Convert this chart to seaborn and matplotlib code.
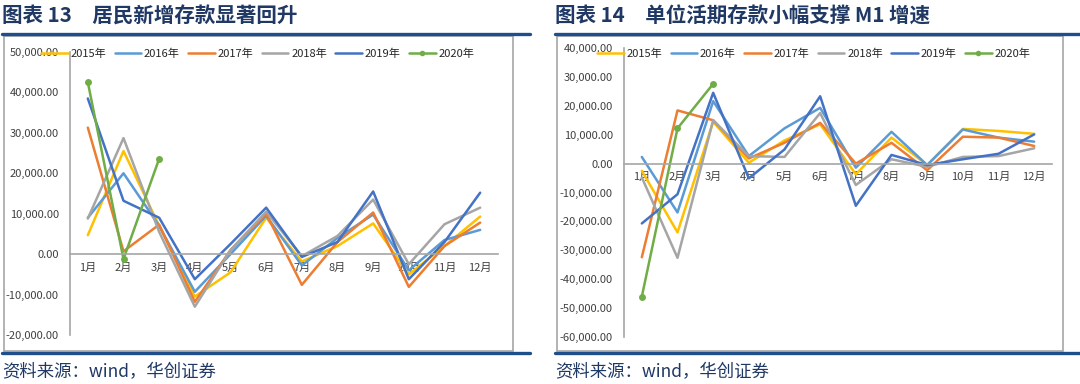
import numpy as np
import pandas as pd
import matplotlib
matplotlib.use("Agg")
import matplotlib.pyplot as plt
import seaborn as sns
from matplotlib.lines import Line2D
from matplotlib.patches import Rectangle
from matplotlib.ticker import FuncFormatter, FixedLocator

# 月份与年份
months = ["1月", "2月", "3月", "4月", "5月", "6月", "7月", "8月", "9月", "10月", "11月", "12月"]
years = ["2015年", "2016年", "2017年", "2018年", "2019年", "2020年"]
colors = ["#FFC000", "#5B9BD5", "#ED7D31", "#A5A5A5", "#4472C4", "#70AD47"]

# 图表13：居民新增存款（亿元）
hh_2015 = [4700, 25500, 7000, -10500, -4500, 9000, -1800, 2000, 7600, -5000, 2000, 9300]
hh_2016 = [9000, 20000, 7000, -9300, 0, 9500, -2800, 4000, 9800, -4000, 3500, 6000]
hh_2017 = [31300, 700, 7300, -11800, 1000, 10000, -7600, 3000, 10300, -8100, 2000, 7800]
hh_2018 = [8800, 28700, 5500, -13000, 1000, 10500, -500, 4500, 13500, -2500, 7400, 11500]
hh_2019 = [38500, 13200, 9000, -6200, 2500, 11500, -700, 3000, 15500, -6200, 3000, 15200]
hh_2020 = [42500, -1200, 23600]

# 图表14：单位活期存款（亿元）
co_2015 = [-2500, -23800, 14500, 300, 8000, 13600, -3700, 9000, -500, 12000, 11300, 10300]
co_2016 = [2300, -16900, 21600, 2600, 12200, 19300, -1400, 11000, -500, 11800, 9000, 7600]
co_2017 = [-32400, 18400, 15000, 1800, 7200, 14100, 0, 7200, -2300, 9300, 9000, 6100]
co_2018 = [-4800, -32600, 15000, 2600, 2300, 17500, -7400, 1500, -1100, 2300, 2600, 5300]
co_2019 = [-20700, -10600, 24500, -5100, 4900, 23300, -14600, 3000, -500, 1500, 3400, 10100]
co_2020 = [-46000, 12200, 27600]

sns.set_style("white")
plt.rcParams["font.family"] = ["Noto Sans CJK SC", "DejaVu Sans"]

W, H = 1080, 384
fig = plt.figure(figsize=(W / 100, H / 100), dpi=100)


def px(x0, y0, x1, y1):
    return [x0 / W, 1 - y1 / H, (x1 - x0) / W, (y1 - y0) / H]


def to_long(series):
    rows = []
    for yr, vals in zip(years, series):
        for i, v in enumerate(vals):
            rows.append({"year": yr, "m": i, "value": v})
    return pd.DataFrame(rows)


def panel(x0, x1, title, ax_rect, series, ylim, yticks, leg_x):
    navy = "#1F4E8C"
    # 标题
    fig.text(x0 / W, 1 - 16 / H, title, fontsize=14.8, fontweight="bold",
             color="#1F3864", va="center", ha="left")
    # 上下蓝色横线
    fig.add_artist(Line2D([x0 / W, x1 / W], [1 - 34 / H, 1 - 34 / H], color=navy, lw=2.4))
    fig.add_artist(Line2D([x0 / W, x1 / W], [1 - 353 / H, 1 - 353 / H], color=navy, lw=2.4))
    # 灰色边框
    bx0 = x0 + 2
    bx1 = x1 - 17
    fig.add_artist(Rectangle((bx0 / W, 1 - 351 / H), (bx1 - bx0) / W, (351 - 36) / H,
                             transform=fig.transFigure, fill=False, ec="#A6A6A6", lw=1.2))
    # 资料来源
    fig.text(x0 / W, 1 - 372 / H, "资料来源：wind，华创证券", fontsize=12.5, style="italic",
             color="#1F3864", va="center", ha="left")

    ax = fig.add_axes(px(*ax_rect))
    df = to_long(series)
    for yr, c in zip(years, colors):
        sub = df[df["year"] == yr]
        if yr == "2020年":
            sns.lineplot(data=sub, x="m", y="value", ax=ax, color=c, lw=1.8,
                         marker="o", markersize=5, markeredgewidth=0, legend=False)
        else:
            sns.lineplot(data=sub, x="m", y="value", ax=ax, color=c, lw=1.8, legend=False)

    ax.set_xlim(-0.5, 11.5)
    ax.set_ylim(*ylim)
    ax.yaxis.set_major_locator(FixedLocator(yticks))
    ax.yaxis.set_major_formatter(FuncFormatter(lambda v, p: f"{v:,.2f}"))
    ax.set_xticks(range(12))
    ax.set_xticklabels(months)
    ax.xaxis.set_minor_locator(FixedLocator(np.arange(-0.5, 12, 1)))
    ax.tick_params(axis="x", which="major", length=0, pad=6, labelsize=8, labelcolor="#404040")
    ax.tick_params(axis="x", which="minor", length=4, width=1, color="#A6A6A6", direction="out")
    ax.tick_params(axis="y", length=0, pad=8, labelsize=8, labelcolor="#404040")
    ax.set_xlabel("")
    ax.set_ylabel("")
    for s in ["top", "right"]:
        ax.spines[s].set_visible(False)
    ax.spines["bottom"].set_position(("data", 0))
    ax.spines["bottom"].set_color("#A6A6A6")
    ax.spines["bottom"].set_linewidth(1.2)
    ax.spines["left"].set_color("#A6A6A6")
    ax.spines["left"].set_linewidth(1.2)
    ax.patch.set_alpha(0)

    handles = []
    for yr, c in zip(years, colors):
        if yr == "2020年":
            handles.append(Line2D([], [], color=c, lw=1.8, marker="o", markersize=4,
                                  markeredgewidth=0, label=yr))
        else:
            handles.append(Line2D([], [], color=c, lw=1.8, label=yr))
    fig.legend(handles=handles, ncol=6, frameon=False, fontsize=8,
               loc="center left", bbox_to_anchor=(leg_x / W, 1 - 54 / H),
               handlelength=2.4, handletextpad=0.25, columnspacing=0.75,
               borderaxespad=0, borderpad=0)
    return ax


panel(2, 530, "图表 13　居民新增存款显著回升", (70, 52, 498, 335),
      [hh_2015, hh_2016, hh_2017, hh_2018, hh_2019, hh_2020],
      (-20000, 50000), np.arange(-20000, 50001, 10000), 41)
panel(555, 1080, "图表 14　单位活期存款小幅支撑 M1 增速", (624, 48, 1052, 337),
      [co_2015, co_2016, co_2017, co_2018, co_2019, co_2020],
      (-60000, 40000), np.arange(-60000, 40001, 10000), 597)

fig.savefig("out.png", dpi=100)
